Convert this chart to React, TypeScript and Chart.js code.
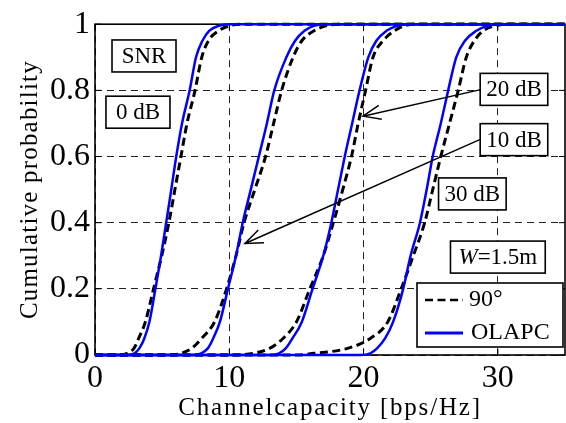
import React, { useEffect, useRef } from "react";
import { Chart, registerables } from "chart.js";

Chart.register(...registerables);

// cumulative probability levels at which the curves were read
const probLevels = [0, 0.005, 0.02, 0.05, 0.1, 0.2, 0.3, 0.4, 0.5, 0.6, 0.7, 0.8, 0.9, 0.95, 0.98, 0.995, 1];

// channel capacity [bps/Hz] at each probability level
const olapc0dB = [2.5, 2.95, 3.3, 3.67, 4.05, 4.5, 4.92, 5.3, 5.68, 6.05, 6.48, 7.05, 7.52, 8.0, 8.5, 9.2, 10.0];
const deg90_0dB = [1.8, 2.4, 2.9, 3.25, 3.75, 4.36, 4.97, 5.5, 5.95, 6.4, 6.85, 7.45, 7.95, 8.45, 9.2, 10.0, 11.0];
const olapc10dB = [7.3, 7.9, 8.4, 8.8, 9.3, 9.9, 10.5, 11.0, 11.6, 12.2, 12.8, 13.35, 14.25, 14.9, 15.6, 16.3, 17.0];
const deg90_10dB = [5.5, 6.4, 7.2, 7.94, 8.9, 9.8, 10.5, 11.1, 11.9, 12.7, 13.3, 13.9, 14.75, 15.4, 16.3, 17.2, 18.2];
const olapc20dB = [12.9, 13.7, 14.2, 14.7, 15.4, 16.2, 17.0, 17.6, 18.1, 18.6, 19.15, 19.7, 20.35, 20.95, 21.7, 22.5, 23.3];
const deg90_20dB = [10.2, 11.8, 13.0, 14.0, 15.0, 16.0, 17.0, 17.75, 18.45, 19.1, 19.6, 20.15, 20.7, 21.45, 22.3, 23.0, 23.8];
const olapc30dB = [19.8, 20.5, 21.0, 21.6, 22.2, 22.95, 23.5, 24.2, 24.7, 25.15, 25.75, 26.3, 26.9, 27.55, 28.4, 29.2, 30.0];
const deg90_30dB = [15.0, 16.3, 18.8, 20.5, 21.8, 22.8, 23.7, 24.55, 25.15, 25.75, 26.4, 27.05, 27.65, 28.25, 28.9, 29.8, 30.8];

const seriesLabels = ["90°", "OLAPC"];
const xTicks = [0, 10, 20, 30];
const yTicks = [0, 0.2, 0.4, 0.6, 0.8, 1];
const xMin = 0;
const xMax = 35;
const xTitle = "Channelcapacity [bps/Hz]";
const yTitle = "Cumulative probability";

// annotation boxes (centre in data coordinates)
const noteTexts = ["SNR", "0 dB", "20 dB", "10 dB", "30 dB"];
const noteX = [3.65, 3.2, 31.2, 31.2, 28.1];
const noteY = [0.904, 0.734, 0.803, 0.651, 0.487];
const widthNoteParts = ["W", "=1.5m"];
const widthNoteX = 30.0;
const widthNoteY = 0.296;

// arrows (data coordinates)
const arrowFromX = [28.8, 28.65];
const arrowFromY = [0.803, 0.651];
const arrowToX = [19.96, 11.17];
const arrowToY = [0.722, 0.337];

const FONT = "'Liberation Serif', 'Times New Roman', serif";
const BLUE = "#0000ff";

function toPoints(xs: number[]) {
  const pts = [{ x: xMin, y: 0 }];
  xs.forEach((x, i) => pts.push({ x, y: probLevels[i] }));
  pts.push({ x: xMax, y: 1 });
  return pts;
}

const decorPlugin = {
  id: "decor",
  beforeDatasetsDraw(chart: any) {
    const { ctx, chartArea: a, scales } = chart;
    ctx.save();
    ctx.strokeStyle = "#000";
    ctx.lineWidth = 1.6;
    ctx.setLineDash([]);
    ctx.strokeRect(a.left, a.top, a.right - a.left, a.bottom - a.top);
    ctx.lineWidth = 1;
    const tl = 6;
    xTicks.forEach((v) => {
      const px = scales.x.getPixelForValue(v);
      ctx.beginPath();
      ctx.moveTo(px, a.bottom);
      ctx.lineTo(px, a.bottom - tl);
      ctx.moveTo(px, a.top);
      ctx.lineTo(px, a.top + tl);
      ctx.stroke();
    });
    yTicks.forEach((v) => {
      const py = scales.y.getPixelForValue(v);
      ctx.beginPath();
      ctx.moveTo(a.left, py);
      ctx.lineTo(a.left + tl, py);
      ctx.moveTo(a.right, py);
      ctx.lineTo(a.right - tl, py);
      ctx.stroke();
    });
    ctx.restore();
  },
  afterDatasetsDraw(chart: any) {
    const { ctx, chartArea: a, scales } = chart;
    const sx = (v: number) => scales.x.getPixelForValue(v);
    const sy = (v: number) => scales.y.getPixelForValue(v);
    ctx.save();
    ctx.setLineDash([]);

    // arrows
    ctx.strokeStyle = "#000";
    ctx.lineWidth = 1.5;
    arrowFromX.forEach((fx, i) => {
      const x0 = sx(fx), y0 = sy(arrowFromY[i]);
      const x1 = sx(arrowToX[i]), y1 = sy(arrowToY[i]);
      ctx.beginPath();
      ctx.moveTo(x0, y0);
      ctx.lineTo(x1, y1);
      ctx.stroke();
      const ang = Math.atan2(y0 - y1, x0 - x1);
      const L = 19, spread = 0.38;
      ctx.beginPath();
      ctx.moveTo(x1 + L * Math.cos(ang + spread), y1 + L * Math.sin(ang + spread));
      ctx.lineTo(x1, y1);
      ctx.lineTo(x1 + L * Math.cos(ang - spread), y1 + L * Math.sin(ang - spread));
      ctx.stroke();
    });

    // annotation boxes
    const boxFont = `23px ${FONT}`;
    ctx.font = boxFont;
    ctx.textBaseline = "middle";
    ctx.textAlign = "center";
    const bh = 32;
    noteTexts.forEach((t, i) => {
      const cx = sx(noteX[i]), cy = sy(noteY[i]);
      const bw = Math.max(64, ctx.measureText(t).width + 12);
      ctx.fillStyle = "#fff";
      ctx.fillRect(cx - bw / 2, cy - bh / 2, bw, bh);
      ctx.lineWidth = 1.6;
      ctx.strokeStyle = "#000";
      ctx.strokeRect(cx - bw / 2, cy - bh / 2, bw, bh);
      ctx.fillStyle = "#000";
      ctx.fillText(t, cx, cy + 1);
    });

    // W = 1.5m box
    {
      const cx = sx(widthNoteX), cy = sy(widthNoteY);
      ctx.font = `italic 23px ${FONT}`;
      const w1 = ctx.measureText(widthNoteParts[0]).width;
      ctx.font = boxFont;
      const w2 = ctx.measureText(widthNoteParts[1]).width;
      const tw = w1 + w2;
      const bw = tw + 16;
      ctx.fillStyle = "#fff";
      ctx.fillRect(cx - bw / 2, cy - bh / 2, bw, bh);
      ctx.strokeRect(cx - bw / 2, cy - bh / 2, bw, bh);
      ctx.fillStyle = "#000";
      ctx.textAlign = "left";
      ctx.font = `italic 23px ${FONT}`;
      ctx.fillText(widthNoteParts[0], cx - tw / 2, cy + 1);
      ctx.font = boxFont;
      ctx.fillText(widthNoteParts[1], cx - tw / 2 + w1, cy + 1);
    }

    // legend
    {
      const lw = 146, lh = 64;
      const lx = a.right - 2 - lw;
      const ly = a.bottom - 8 - lh;
      ctx.fillStyle = "#fff";
      ctx.fillRect(lx, ly, lw, lh);
      ctx.lineWidth = 1.6;
      ctx.strokeStyle = "#000";
      ctx.strokeRect(lx, ly, lw, lh);
      const rows = [ly + 17, ly + 50];
      ctx.strokeStyle = "#000";
      ctx.lineWidth = 2.5;
      ctx.setLineDash([8, 4.5]);
      ctx.beginPath();
      ctx.moveTo(lx + 8, rows[0]);
      ctx.lineTo(lx + 46, rows[0]);
      ctx.stroke();
      ctx.setLineDash([]);
      ctx.strokeStyle = BLUE;
      ctx.lineWidth = 3;
      ctx.beginPath();
      ctx.moveTo(lx + 8, rows[1]);
      ctx.lineTo(lx + 46, rows[1]);
      ctx.stroke();
      ctx.fillStyle = "#000";
      ctx.font = `24px ${FONT}`;
      ctx.textAlign = "left";
      ctx.textBaseline = "middle";
      ctx.fillText(seriesLabels[0], lx + 52, rows[0]);
      ctx.fillText(seriesLabels[1], lx + 54, rows[1]);
    }

    // axis titles
    ctx.fillStyle = "#000";
    ctx.font = `25px ${FONT}`;
    ctx.textAlign = "center";
    ctx.textBaseline = "middle";
    (ctx as any).letterSpacing = "1.8px";
    ctx.fillText(xTitle, (a.left + a.right) / 2, a.bottom + 53);
    (ctx as any).letterSpacing = "1.2px";
    ctx.translate(30, (a.top + a.bottom) / 2);
    ctx.rotate(-Math.PI / 2);
    ctx.fillText(yTitle, 0, 0);
    (ctx as any).letterSpacing = "0px";
    ctx.restore();
  },
};

export default function App() {
  const ref = useRef<HTMLCanvasElement | null>(null);
  useEffect(() => {
    document.body.style.margin = "0";
    const canvas = ref.current;
    if (!canvas) return;
    const blueCurves = [olapc0dB, olapc10dB, olapc20dB, olapc30dB];
    const dashCurves = [deg90_0dB, deg90_10dB, deg90_20dB, deg90_30dB];
    const datasets: any[] = [];
    blueCurves.forEach((c) =>
      datasets.push({
        label: seriesLabels[1],
        data: toPoints(c),
        borderColor: BLUE,
        borderWidth: 2.5,
        pointRadius: 0,
        fill: false,
        cubicInterpolationMode: "monotone",
        clip: false,
      })
    );
    dashCurves.forEach((c) =>
      datasets.push({
        label: seriesLabels[0],
        data: toPoints(c),
        borderColor: "#000",
        borderWidth: 3,
        borderDash: [8, 4.5],
        pointRadius: 0,
        fill: false,
        cubicInterpolationMode: "monotone",
        clip: false,
      })
    );
    const tickFont = { family: FONT, size: 32 };
    const fmt = (v: any) => String(Number(v));
    const chart = new Chart(canvas, {
      type: "line",
      data: { datasets },
      options: {
        animation: false,
        responsive: false,
        events: [],
        layout: { padding: { top: 20, right: 1, left: 0, bottom: 0 } },
        plugins: { legend: { display: false }, tooltip: { enabled: false } },
        scales: {
          x: {
            type: "linear",
            min: xMin,
            max: xMax,
            afterBuildTicks: (s: any) => {
              s.ticks = xTicks.map((v) => ({ value: v }));
            },
            afterFit: (s: any) => {
              s.height = 68;
            },
            grid: { color: "#222", lineWidth: 1, drawTicks: false },
            border: { display: false, dash: [7, 5] },
            ticks: { font: tickFont, color: "#000", padding: 4, maxRotation: 0, callback: fmt },
          },
          y: {
            type: "linear",
            min: 0,
            max: 1,
            afterBuildTicks: (s: any) => {
              s.ticks = yTicks.map((v) => ({ value: v }));
            },
            afterFit: (s: any) => {
              s.width = 95;
            },
            grid: { color: "#222", lineWidth: 1, drawTicks: false },
            border: { display: false, dash: [7, 5] },
            ticks: { font: tickFont, color: "#000", padding: 5, callback: fmt },
          },
        },
      },
      plugins: [decorPlugin],
    });
    return () => chart.destroy();
  }, []);
  return (
    <div style={{ width: 566, height: 423, background: "#fff" }}>
      <canvas ref={ref} width={566} height={423} style={{ display: "block" }} />
    </div>
  );
}
